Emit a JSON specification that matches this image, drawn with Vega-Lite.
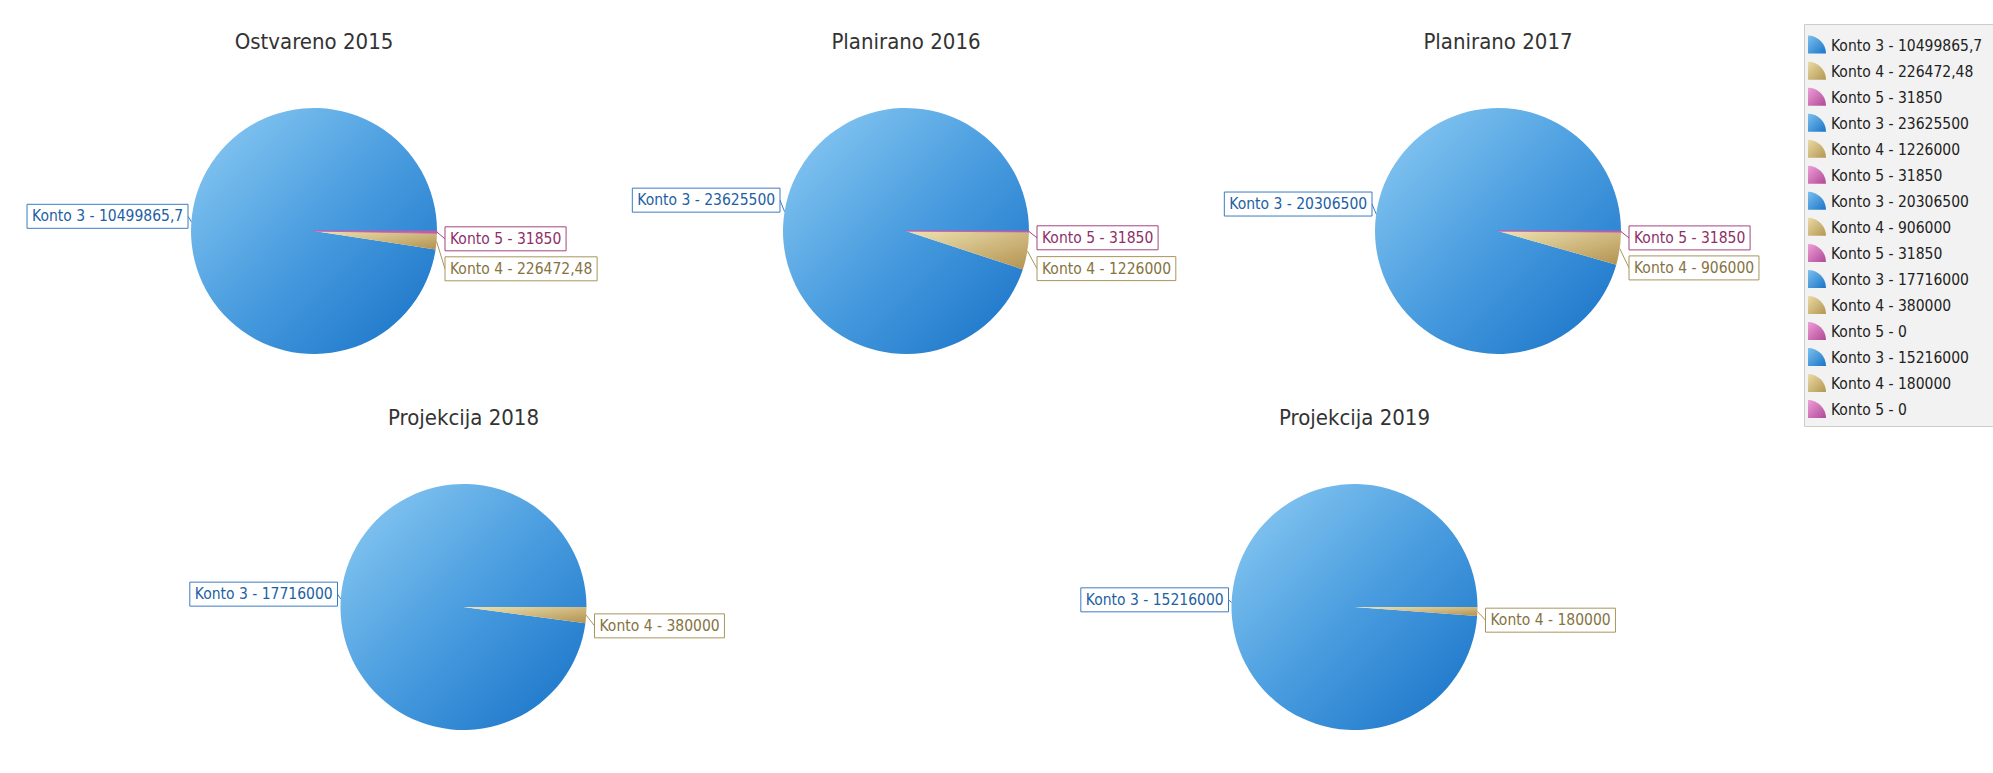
{
  "$schema": "https://vega.github.io/schema/vega-lite/v6.json",
  "background": "white",
  "padding": {"left": 18, "top": 23, "right": 0, "bottom": 0},
  "autosize": {"type": "pad"},
  "config": {
    "view": {"stroke": null},
    "font": "DejaVu Sans Condensed",
    "title": {"font": "DejaVu Sans Condensed", "fontSize": 22, "fontWeight": "normal", "color": "#333333", "baseline": "middle", "anchor": "middle"},
    "text": {"font": "DejaVu Sans Condensed"}
  },
  "datasets": {
    "pies": [
      {"year": "Ostvareno 2015", "konto": 3, "value": 10499865.7, "label": "Konto 3 - 10499865,7"},
      {"year": "Ostvareno 2015", "konto": 4, "value": 226472.48, "label": "Konto 4 - 226472,48"},
      {"year": "Ostvareno 2015", "konto": 5, "value": 31850, "label": "Konto 5 - 31850"},
      {"year": "Planirano 2016", "konto": 3, "value": 23625500, "label": "Konto 3 - 23625500"},
      {"year": "Planirano 2016", "konto": 4, "value": 1226000, "label": "Konto 4 - 1226000"},
      {"year": "Planirano 2016", "konto": 5, "value": 31850, "label": "Konto 5 - 31850"},
      {"year": "Planirano 2017", "konto": 3, "value": 20306500, "label": "Konto 3 - 20306500"},
      {"year": "Planirano 2017", "konto": 4, "value": 906000, "label": "Konto 4 - 906000"},
      {"year": "Planirano 2017", "konto": 5, "value": 31850, "label": "Konto 5 - 31850"},
      {"year": "Projekcija 2018", "konto": 3, "value": 17716000, "label": "Konto 3 - 17716000"},
      {"year": "Projekcija 2018", "konto": 4, "value": 380000, "label": "Konto 4 - 380000"},
      {"year": "Projekcija 2018", "konto": 5, "value": 0, "label": "Konto 5 - 0"},
      {"year": "Projekcija 2019", "konto": 3, "value": 15216000, "label": "Konto 3 - 15216000"},
      {"year": "Projekcija 2019", "konto": 4, "value": 180000, "label": "Konto 4 - 180000"},
      {"year": "Projekcija 2019", "konto": 5, "value": 0, "label": "Konto 5 - 0"}
    ],
    "legend": [
      {"i": 0, "konto": 3, "label": "Konto 3 - 10499865,7"},
      {"i": 1, "konto": 4, "label": "Konto 4 - 226472,48"},
      {"i": 2, "konto": 5, "label": "Konto 5 - 31850"},
      {"i": 3, "konto": 3, "label": "Konto 3 - 23625500"},
      {"i": 4, "konto": 4, "label": "Konto 4 - 1226000"},
      {"i": 5, "konto": 5, "label": "Konto 5 - 31850"},
      {"i": 6, "konto": 3, "label": "Konto 3 - 20306500"},
      {"i": 7, "konto": 4, "label": "Konto 4 - 906000"},
      {"i": 8, "konto": 5, "label": "Konto 5 - 31850"},
      {"i": 9, "konto": 3, "label": "Konto 3 - 17716000"},
      {"i": 10, "konto": 4, "label": "Konto 4 - 380000"},
      {"i": 11, "konto": 5, "label": "Konto 5 - 0"},
      {"i": 12, "konto": 3, "label": "Konto 3 - 15216000"},
      {"i": 13, "konto": 4, "label": "Konto 4 - 180000"},
      {"i": 14, "konto": 5, "label": "Konto 5 - 0"}
    ]
  },
  "spacing": 3,
  "hconcat": [
    {
      "data": {"name": "pies"},
      "transform": [
        {"stack": "value", "groupby": ["year"], "sort": [{"field": "konto", "order": "ascending"}], "offset": "normalize", "as": ["f0", "f1"]},
        {"calculate": "PI*(datum.f0+datum.f1)", "as": "phi"},
        {"calculate": "123*cos(datum.phi)", "as": "sx"},
        {"calculate": "-123*sin(datum.phi)", "as": "sy"},
        {"calculate": "cos(datum.phi) > 0", "as": "right"},
        {"calculate": "(datum.right ? 6 : 0) - 195*sin(datum.phi)", "as": "ly0"},
        {"window": [{"op": "lead", "field": "ly0", "as": "nly"}, {"op": "lead", "field": "value", "as": "nval"}], "groupby": ["year"], "sort": [{"field": "konto", "order": "ascending"}]},
        {"calculate": "datum.konto == 4 && datum.nval > 0 ? max(datum.ly0, datum.nly + 30) : datum.ly0", "as": "ly"},
        {"calculate": "length(datum.label) - length(replace(datum.label, ',', ''))", "as": "nc"},
        {"calculate": "15.5*(4.371 + 0.572*(length(datum.label) - 10 - datum.nc) + 0.286*datum.nc) + 9", "as": "bw"},
        {"calculate": "datum.right ? 131 : -126 - datum.bw", "as": "bx1"},
        {"calculate": "datum.right ? 131 + datum.bw : -126", "as": "bx2"},
        {"calculate": "datum.right ? 131 : -126", "as": "ex"},
        {"calculate": "datum.bx1 + 5", "as": "tx"},
        {"calculate": "datum.ly - 12", "as": "by1"},
        {"calculate": "datum.ly + 12", "as": "by2"}
      ],
      "spacing": 0,
      "vconcat": [
        {
          "spacing": 0,
          "hconcat": [
            {
              "width": 592, "height": 383,
              "title": {"text": "Ostvareno 2015", "offset": -30},
              "transform": [{"filter": "datum.year == 'Ostvareno 2015' && datum.value > 0"}],
              "layer": [
                {"transform": [{"filter": "datum.konto == 3"}], "mark": {"type": "arc", "outerRadius": 123, "fill": {"gradient": "linear", "x1": 0, "y1": 0, "x2": 1, "y2": 1, "stops": [{"offset": 0, "color": "#8fcdf4"}, {"offset": 0.5, "color": "#4a9ddf"}, {"offset": 1, "color": "#1570c6"}]}}, "encoding": {"x": {"datum": 0, "type": "quantitative", "scale": {"domain": [-296, 296]}, "axis": null, "stack": null}, "y": {"datum": 0, "type": "quantitative", "scale": {"domain": [-207, 176], "reverse": true}, "axis": null, "stack": null}, "theta": {"field": "f0", "type": "quantitative", "scale": {"domain": [0, 1], "range": [1.5708, -4.7124]}}, "theta2": {"field": "f1"}}},
                {"transform": [{"filter": "datum.konto == 4"}], "mark": {"type": "arc", "outerRadius": 123, "fill": {"gradient": "linear", "x1": 0, "y1": 0, "x2": 1, "y2": 1, "stops": [{"offset": 0, "color": "#efe3b2"}, {"offset": 1, "color": "#b39250"}]}}, "encoding": {"x": {"datum": 0, "type": "quantitative", "scale": {"domain": [-296, 296]}, "axis": null, "stack": null}, "y": {"datum": 0, "type": "quantitative", "scale": {"domain": [-207, 176], "reverse": true}, "axis": null, "stack": null}, "theta": {"field": "f0", "type": "quantitative", "scale": {"domain": [0, 1], "range": [1.5708, -4.7124]}}, "theta2": {"field": "f1"}}},
                {"transform": [{"filter": "datum.konto == 5"}], "mark": {"type": "arc", "outerRadius": 123, "fill": "#c45aa8", "stroke": "#c45aa8", "strokeWidth": 0.8}, "encoding": {"x": {"datum": 0, "type": "quantitative", "scale": {"domain": [-296, 296]}, "axis": null, "stack": null}, "y": {"datum": 0, "type": "quantitative", "scale": {"domain": [-207, 176], "reverse": true}, "axis": null, "stack": null}, "theta": {"field": "f0", "type": "quantitative", "scale": {"domain": [0, 1], "range": [1.5708, -4.7124]}}, "theta2": {"field": "f1"}}},
                {"mark": {"type": "rule", "strokeWidth": 1}, "encoding": {"x": {"field": "sx", "type": "quantitative", "scale": {"domain": [-296, 296]}, "axis": null}, "y": {"field": "sy", "type": "quantitative", "scale": {"domain": [-207, 176], "reverse": true}, "axis": null}, "x2": {"field": "ex"}, "y2": {"field": "ly"}, "stroke": {"field": "konto", "type": "nominal", "scale": {"domain": [3, 4, 5], "range": ["#3a7cc2", "#a8955c", "#a3457f"]}, "legend": null}}},
                {"mark": {"type": "rect", "fill": "white", "strokeWidth": 1}, "encoding": {"x": {"field": "bx1", "type": "quantitative", "scale": {"domain": [-296, 296]}, "axis": null}, "x2": {"field": "bx2"}, "y": {"field": "by1", "type": "quantitative", "scale": {"domain": [-207, 176], "reverse": true}, "axis": null}, "y2": {"field": "by2"}, "stroke": {"field": "konto", "type": "nominal", "scale": {"domain": [3, 4, 5], "range": ["#3a7cc2", "#a8955c", "#a3457f"]}, "legend": null}}},
                {"mark": {"type": "text", "align": "left", "baseline": "middle", "fontSize": 15.5}, "encoding": {"x": {"field": "tx", "type": "quantitative", "scale": {"domain": [-296, 296]}, "axis": null}, "y": {"field": "ly", "type": "quantitative", "scale": {"domain": [-207, 176], "reverse": true}, "axis": null}, "text": {"field": "label"}, "color": {"field": "konto", "type": "nominal", "scale": {"domain": [3, 4, 5], "range": ["#1d5fa3", "#857341", "#8e2f68"]}, "legend": null}}}
              ]
            },
            {
              "width": 592, "height": 383,
              "title": {"text": "Planirano 2016", "offset": -30},
              "transform": [{"filter": "datum.year == 'Planirano 2016' && datum.value > 0"}],
              "layer": [
                {"transform": [{"filter": "datum.konto == 3"}], "mark": {"type": "arc", "outerRadius": 123, "fill": {"gradient": "linear", "x1": 0, "y1": 0, "x2": 1, "y2": 1, "stops": [{"offset": 0, "color": "#8fcdf4"}, {"offset": 0.5, "color": "#4a9ddf"}, {"offset": 1, "color": "#1570c6"}]}}, "encoding": {"x": {"datum": 0, "type": "quantitative", "scale": {"domain": [-296, 296]}, "axis": null, "stack": null}, "y": {"datum": 0, "type": "quantitative", "scale": {"domain": [-207, 176], "reverse": true}, "axis": null, "stack": null}, "theta": {"field": "f0", "type": "quantitative", "scale": {"domain": [0, 1], "range": [1.5708, -4.7124]}}, "theta2": {"field": "f1"}}},
                {"transform": [{"filter": "datum.konto == 4"}], "mark": {"type": "arc", "outerRadius": 123, "fill": {"gradient": "linear", "x1": 0, "y1": 0, "x2": 1, "y2": 1, "stops": [{"offset": 0, "color": "#efe3b2"}, {"offset": 1, "color": "#b39250"}]}}, "encoding": {"x": {"datum": 0, "type": "quantitative", "scale": {"domain": [-296, 296]}, "axis": null, "stack": null}, "y": {"datum": 0, "type": "quantitative", "scale": {"domain": [-207, 176], "reverse": true}, "axis": null, "stack": null}, "theta": {"field": "f0", "type": "quantitative", "scale": {"domain": [0, 1], "range": [1.5708, -4.7124]}}, "theta2": {"field": "f1"}}},
                {"transform": [{"filter": "datum.konto == 5"}], "mark": {"type": "arc", "outerRadius": 123, "fill": "#c45aa8", "stroke": "#c45aa8", "strokeWidth": 0.8}, "encoding": {"x": {"datum": 0, "type": "quantitative", "scale": {"domain": [-296, 296]}, "axis": null, "stack": null}, "y": {"datum": 0, "type": "quantitative", "scale": {"domain": [-207, 176], "reverse": true}, "axis": null, "stack": null}, "theta": {"field": "f0", "type": "quantitative", "scale": {"domain": [0, 1], "range": [1.5708, -4.7124]}}, "theta2": {"field": "f1"}}},
                {"mark": {"type": "rule", "strokeWidth": 1}, "encoding": {"x": {"field": "sx", "type": "quantitative", "scale": {"domain": [-296, 296]}, "axis": null}, "y": {"field": "sy", "type": "quantitative", "scale": {"domain": [-207, 176], "reverse": true}, "axis": null}, "x2": {"field": "ex"}, "y2": {"field": "ly"}, "stroke": {"field": "konto", "type": "nominal", "scale": {"domain": [3, 4, 5], "range": ["#3a7cc2", "#a8955c", "#a3457f"]}, "legend": null}}},
                {"mark": {"type": "rect", "fill": "white", "strokeWidth": 1}, "encoding": {"x": {"field": "bx1", "type": "quantitative", "scale": {"domain": [-296, 296]}, "axis": null}, "x2": {"field": "bx2"}, "y": {"field": "by1", "type": "quantitative", "scale": {"domain": [-207, 176], "reverse": true}, "axis": null}, "y2": {"field": "by2"}, "stroke": {"field": "konto", "type": "nominal", "scale": {"domain": [3, 4, 5], "range": ["#3a7cc2", "#a8955c", "#a3457f"]}, "legend": null}}},
                {"mark": {"type": "text", "align": "left", "baseline": "middle", "fontSize": 15.5}, "encoding": {"x": {"field": "tx", "type": "quantitative", "scale": {"domain": [-296, 296]}, "axis": null}, "y": {"field": "ly", "type": "quantitative", "scale": {"domain": [-207, 176], "reverse": true}, "axis": null}, "text": {"field": "label"}, "color": {"field": "konto", "type": "nominal", "scale": {"domain": [3, 4, 5], "range": ["#1d5fa3", "#857341", "#8e2f68"]}, "legend": null}}}
              ]
            },
            {
              "width": 592, "height": 383,
              "title": {"text": "Planirano 2017", "offset": -30},
              "transform": [{"filter": "datum.year == 'Planirano 2017' && datum.value > 0"}],
              "layer": [
                {"transform": [{"filter": "datum.konto == 3"}], "mark": {"type": "arc", "outerRadius": 123, "fill": {"gradient": "linear", "x1": 0, "y1": 0, "x2": 1, "y2": 1, "stops": [{"offset": 0, "color": "#8fcdf4"}, {"offset": 0.5, "color": "#4a9ddf"}, {"offset": 1, "color": "#1570c6"}]}}, "encoding": {"x": {"datum": 0, "type": "quantitative", "scale": {"domain": [-296, 296]}, "axis": null, "stack": null}, "y": {"datum": 0, "type": "quantitative", "scale": {"domain": [-207, 176], "reverse": true}, "axis": null, "stack": null}, "theta": {"field": "f0", "type": "quantitative", "scale": {"domain": [0, 1], "range": [1.5708, -4.7124]}}, "theta2": {"field": "f1"}}},
                {"transform": [{"filter": "datum.konto == 4"}], "mark": {"type": "arc", "outerRadius": 123, "fill": {"gradient": "linear", "x1": 0, "y1": 0, "x2": 1, "y2": 1, "stops": [{"offset": 0, "color": "#efe3b2"}, {"offset": 1, "color": "#b39250"}]}}, "encoding": {"x": {"datum": 0, "type": "quantitative", "scale": {"domain": [-296, 296]}, "axis": null, "stack": null}, "y": {"datum": 0, "type": "quantitative", "scale": {"domain": [-207, 176], "reverse": true}, "axis": null, "stack": null}, "theta": {"field": "f0", "type": "quantitative", "scale": {"domain": [0, 1], "range": [1.5708, -4.7124]}}, "theta2": {"field": "f1"}}},
                {"transform": [{"filter": "datum.konto == 5"}], "mark": {"type": "arc", "outerRadius": 123, "fill": "#c45aa8", "stroke": "#c45aa8", "strokeWidth": 0.8}, "encoding": {"x": {"datum": 0, "type": "quantitative", "scale": {"domain": [-296, 296]}, "axis": null, "stack": null}, "y": {"datum": 0, "type": "quantitative", "scale": {"domain": [-207, 176], "reverse": true}, "axis": null, "stack": null}, "theta": {"field": "f0", "type": "quantitative", "scale": {"domain": [0, 1], "range": [1.5708, -4.7124]}}, "theta2": {"field": "f1"}}},
                {"mark": {"type": "rule", "strokeWidth": 1}, "encoding": {"x": {"field": "sx", "type": "quantitative", "scale": {"domain": [-296, 296]}, "axis": null}, "y": {"field": "sy", "type": "quantitative", "scale": {"domain": [-207, 176], "reverse": true}, "axis": null}, "x2": {"field": "ex"}, "y2": {"field": "ly"}, "stroke": {"field": "konto", "type": "nominal", "scale": {"domain": [3, 4, 5], "range": ["#3a7cc2", "#a8955c", "#a3457f"]}, "legend": null}}},
                {"mark": {"type": "rect", "fill": "white", "strokeWidth": 1}, "encoding": {"x": {"field": "bx1", "type": "quantitative", "scale": {"domain": [-296, 296]}, "axis": null}, "x2": {"field": "bx2"}, "y": {"field": "by1", "type": "quantitative", "scale": {"domain": [-207, 176], "reverse": true}, "axis": null}, "y2": {"field": "by2"}, "stroke": {"field": "konto", "type": "nominal", "scale": {"domain": [3, 4, 5], "range": ["#3a7cc2", "#a8955c", "#a3457f"]}, "legend": null}}},
                {"mark": {"type": "text", "align": "left", "baseline": "middle", "fontSize": 15.5}, "encoding": {"x": {"field": "tx", "type": "quantitative", "scale": {"domain": [-296, 296]}, "axis": null}, "y": {"field": "ly", "type": "quantitative", "scale": {"domain": [-207, 176], "reverse": true}, "axis": null}, "text": {"field": "label"}, "color": {"field": "konto", "type": "nominal", "scale": {"domain": [3, 4, 5], "range": ["#1d5fa3", "#857341", "#8e2f68"]}, "legend": null}}}
              ]
            }
          ]
        },
        {
          "spacing": 0,
          "hconcat": [
            {
              "width": 891, "height": 338,
              "title": {"text": "Projekcija 2018", "offset": 8},
              "transform": [{"filter": "datum.year == 'Projekcija 2018' && datum.value > 0"}],
              "layer": [
                {"transform": [{"filter": "datum.konto == 3"}], "mark": {"type": "arc", "outerRadius": 123, "fill": {"gradient": "linear", "x1": 0, "y1": 0, "x2": 1, "y2": 1, "stops": [{"offset": 0, "color": "#8fcdf4"}, {"offset": 0.5, "color": "#4a9ddf"}, {"offset": 1, "color": "#1570c6"}]}}, "encoding": {"x": {"datum": 0, "type": "quantitative", "scale": {"domain": [-445.5, 445.5]}, "axis": null, "stack": null}, "y": {"datum": 0, "type": "quantitative", "scale": {"domain": [-169, 169], "reverse": true}, "axis": null, "stack": null}, "theta": {"field": "f0", "type": "quantitative", "scale": {"domain": [0, 1], "range": [1.5708, -4.7124]}}, "theta2": {"field": "f1"}}},
                {"transform": [{"filter": "datum.konto == 4"}], "mark": {"type": "arc", "outerRadius": 123, "fill": {"gradient": "linear", "x1": 0, "y1": 0, "x2": 1, "y2": 1, "stops": [{"offset": 0, "color": "#efe3b2"}, {"offset": 1, "color": "#b39250"}]}}, "encoding": {"x": {"datum": 0, "type": "quantitative", "scale": {"domain": [-445.5, 445.5]}, "axis": null, "stack": null}, "y": {"datum": 0, "type": "quantitative", "scale": {"domain": [-169, 169], "reverse": true}, "axis": null, "stack": null}, "theta": {"field": "f0", "type": "quantitative", "scale": {"domain": [0, 1], "range": [1.5708, -4.7124]}}, "theta2": {"field": "f1"}}},
                {"mark": {"type": "rule", "strokeWidth": 1}, "encoding": {"x": {"field": "sx", "type": "quantitative", "scale": {"domain": [-445.5, 445.5]}, "axis": null}, "y": {"field": "sy", "type": "quantitative", "scale": {"domain": [-169, 169], "reverse": true}, "axis": null}, "x2": {"field": "ex"}, "y2": {"field": "ly"}, "stroke": {"field": "konto", "type": "nominal", "scale": {"domain": [3, 4, 5], "range": ["#3a7cc2", "#a8955c", "#a3457f"]}, "legend": null}}},
                {"mark": {"type": "rect", "fill": "white", "strokeWidth": 1}, "encoding": {"x": {"field": "bx1", "type": "quantitative", "scale": {"domain": [-445.5, 445.5]}, "axis": null}, "x2": {"field": "bx2"}, "y": {"field": "by1", "type": "quantitative", "scale": {"domain": [-169, 169], "reverse": true}, "axis": null}, "y2": {"field": "by2"}, "stroke": {"field": "konto", "type": "nominal", "scale": {"domain": [3, 4, 5], "range": ["#3a7cc2", "#a8955c", "#a3457f"]}, "legend": null}}},
                {"mark": {"type": "text", "align": "left", "baseline": "middle", "fontSize": 15.5}, "encoding": {"x": {"field": "tx", "type": "quantitative", "scale": {"domain": [-445.5, 445.5]}, "axis": null}, "y": {"field": "ly", "type": "quantitative", "scale": {"domain": [-169, 169], "reverse": true}, "axis": null}, "text": {"field": "label"}, "color": {"field": "konto", "type": "nominal", "scale": {"domain": [3, 4, 5], "range": ["#1d5fa3", "#857341", "#8e2f68"]}, "legend": null}}}
              ]
            },
            {
              "width": 891, "height": 338,
              "title": {"text": "Projekcija 2019", "offset": 8},
              "transform": [{"filter": "datum.year == 'Projekcija 2019' && datum.value > 0"}],
              "layer": [
                {"transform": [{"filter": "datum.konto == 3"}], "mark": {"type": "arc", "outerRadius": 123, "fill": {"gradient": "linear", "x1": 0, "y1": 0, "x2": 1, "y2": 1, "stops": [{"offset": 0, "color": "#8fcdf4"}, {"offset": 0.5, "color": "#4a9ddf"}, {"offset": 1, "color": "#1570c6"}]}}, "encoding": {"x": {"datum": 0, "type": "quantitative", "scale": {"domain": [-445.5, 445.5]}, "axis": null, "stack": null}, "y": {"datum": 0, "type": "quantitative", "scale": {"domain": [-169, 169], "reverse": true}, "axis": null, "stack": null}, "theta": {"field": "f0", "type": "quantitative", "scale": {"domain": [0, 1], "range": [1.5708, -4.7124]}}, "theta2": {"field": "f1"}}},
                {"transform": [{"filter": "datum.konto == 4"}], "mark": {"type": "arc", "outerRadius": 123, "fill": {"gradient": "linear", "x1": 0, "y1": 0, "x2": 1, "y2": 1, "stops": [{"offset": 0, "color": "#efe3b2"}, {"offset": 1, "color": "#b39250"}]}}, "encoding": {"x": {"datum": 0, "type": "quantitative", "scale": {"domain": [-445.5, 445.5]}, "axis": null, "stack": null}, "y": {"datum": 0, "type": "quantitative", "scale": {"domain": [-169, 169], "reverse": true}, "axis": null, "stack": null}, "theta": {"field": "f0", "type": "quantitative", "scale": {"domain": [0, 1], "range": [1.5708, -4.7124]}}, "theta2": {"field": "f1"}}},
                {"mark": {"type": "rule", "strokeWidth": 1}, "encoding": {"x": {"field": "sx", "type": "quantitative", "scale": {"domain": [-445.5, 445.5]}, "axis": null}, "y": {"field": "sy", "type": "quantitative", "scale": {"domain": [-169, 169], "reverse": true}, "axis": null}, "x2": {"field": "ex"}, "y2": {"field": "ly"}, "stroke": {"field": "konto", "type": "nominal", "scale": {"domain": [3, 4, 5], "range": ["#3a7cc2", "#a8955c", "#a3457f"]}, "legend": null}}},
                {"mark": {"type": "rect", "fill": "white", "strokeWidth": 1}, "encoding": {"x": {"field": "bx1", "type": "quantitative", "scale": {"domain": [-445.5, 445.5]}, "axis": null}, "x2": {"field": "bx2"}, "y": {"field": "by1", "type": "quantitative", "scale": {"domain": [-169, 169], "reverse": true}, "axis": null}, "y2": {"field": "by2"}, "stroke": {"field": "konto", "type": "nominal", "scale": {"domain": [3, 4, 5], "range": ["#3a7cc2", "#a8955c", "#a3457f"]}, "legend": null}}},
                {"mark": {"type": "text", "align": "left", "baseline": "middle", "fontSize": 15.5}, "encoding": {"x": {"field": "tx", "type": "quantitative", "scale": {"domain": [-445.5, 445.5]}, "axis": null}, "y": {"field": "ly", "type": "quantitative", "scale": {"domain": [-169, 169], "reverse": true}, "axis": null}, "text": {"field": "label"}, "color": {"field": "konto", "type": "nominal", "scale": {"domain": [3, 4, 5], "range": ["#1d5fa3", "#857341", "#8e2f68"]}, "legend": null}}}
              ]
            }
          ]
        }
      ]
    },
    {
      "width": 190, "height": 402,
      "view": {"fill": "#f2f2f2", "stroke": "#cccccc"},
      "data": {"name": "legend"},
      "layer": [
        {"transform": [{"filter": "datum.konto == 3"}], "mark": {"type": "arc", "outerRadius": 18, "theta": 0, "theta2": 1.5708, "yOffset": 8, "fill": {"gradient": "linear", "x1": 0, "y1": 0, "x2": 1, "y2": 1, "stops": [{"offset": 0, "color": "#7cc0ef"}, {"offset": 1, "color": "#1a74c7"}]}}, "encoding": {"x": {"datum": 4, "type": "quantitative", "scale": {"domain": [0, 190]}, "axis": null, "stack": null}, "y": {"field": "i", "type": "quantitative", "scale": {"domain": [-0.83, 14.61], "reverse": true}, "axis": null, "stack": null}}},
        {"transform": [{"filter": "datum.konto == 4"}], "mark": {"type": "arc", "outerRadius": 18, "theta": 0, "theta2": 1.5708, "yOffset": 8, "fill": {"gradient": "linear", "x1": 0, "y1": 0, "x2": 1, "y2": 1, "stops": [{"offset": 0, "color": "#eadba6"}, {"offset": 1, "color": "#b39651"}]}}, "encoding": {"x": {"datum": 4, "type": "quantitative", "scale": {"domain": [0, 190]}, "axis": null, "stack": null}, "y": {"field": "i", "type": "quantitative", "scale": {"domain": [-0.83, 14.61], "reverse": true}, "axis": null, "stack": null}}},
        {"transform": [{"filter": "datum.konto == 5"}], "mark": {"type": "arc", "outerRadius": 18, "theta": 0, "theta2": 1.5708, "yOffset": 8, "fill": {"gradient": "linear", "x1": 0, "y1": 0, "x2": 1, "y2": 1, "stops": [{"offset": 0, "color": "#ee9fd8"}, {"offset": 1, "color": "#b04896"}]}}, "encoding": {"x": {"datum": 4, "type": "quantitative", "scale": {"domain": [0, 190]}, "axis": null, "stack": null}, "y": {"field": "i", "type": "quantitative", "scale": {"domain": [-0.83, 14.61], "reverse": true}, "axis": null, "stack": null}}},
        {"mark": {"type": "text", "align": "left", "baseline": "middle", "fontSize": 15.5, "color": "#222222"}, "encoding": {"x": {"datum": 27, "type": "quantitative", "scale": {"domain": [0, 190]}, "axis": null}, "y": {"field": "i", "type": "quantitative", "scale": {"domain": [-0.83, 14.61], "reverse": true}, "axis": null}, "text": {"field": "label"}}}
      ]
    }
  ]
}
